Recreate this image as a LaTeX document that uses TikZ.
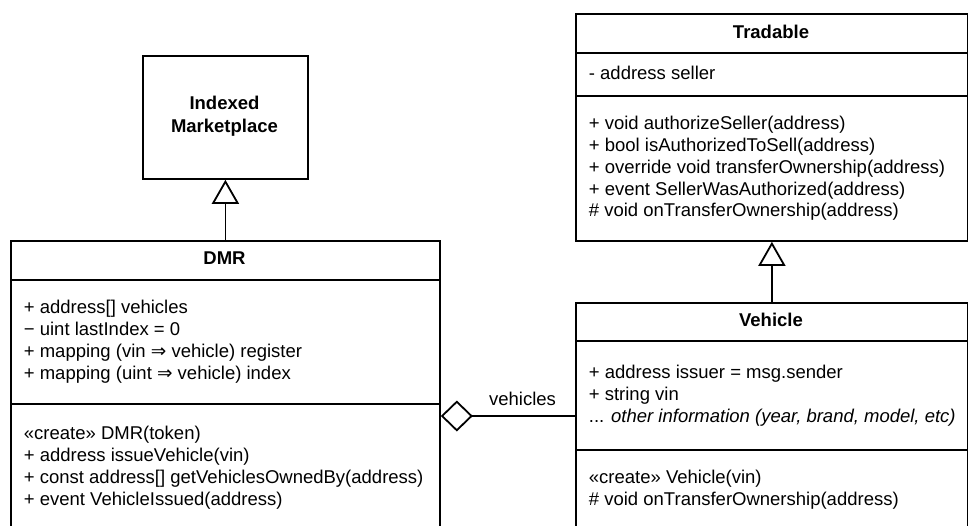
\documentclass[tikz,border=0pt]{standalone}
\usepackage{fontspec}
\setmainfont{Liberation Sans}
\newfontfamily\dejavu{DejaVu Sans}
\usetikzlibrary{arrows.meta}
\begin{document}
\begin{tikzpicture}[x=1pt,y=-1pt,line width=1.8pt,
  umlbox/.style={draw,line width=1.8pt,anchor=north west,inner sep=0pt},
  txt/.style={anchor=base west,inner sep=0pt,font=\fontsize{18.5}{22}\selectfont},
  hdr/.style={anchor=base,inner sep=0pt,font=\fontsize{18.5}{22}\selectfont\bfseries},
  gen/.style={-{Triangle[open,length=24pt,width=27pt]}},
  agr/.style={-{Diamond[open,length=32pt,width=31pt]}}]
\useasboundingbox (0,0) rectangle (968,525);
% boxes
\node[umlbox,minimum width=165pt,minimum height=123pt] (im) at (142,55) {};
\node[umlbox,minimum width=429pt,minimum height=300pt] (dmr) at (10,240) {};
\node[umlbox,minimum width=392pt,minimum height=227pt] (trd) at (575,13) {};
\node[umlbox,minimum width=392pt,minimum height=240pt] (veh) at (575,302) {};
% compartments
\draw (dmr.west |- 0,280) -- (dmr.east |- 0,280);
\draw (dmr.west |- 0,404) -- (dmr.east |- 0,404);
\draw (trd.west |- 0,53) -- (trd.east |- 0,53);
\draw (trd.west |- 0,96) -- (trd.east |- 0,96);
\draw (veh.west |- 0,341) -- (veh.east |- 0,341);
\draw (veh.west |- 0,450) -- (veh.east |- 0,450);
% Indexed Marketplace
\node[hdr] (im1) at (224.5,109) {Indexed};
\node[hdr] (im2) at (224.5,132) {Marketplace};
% DMR
\node[hdr] (dmrh) at (224.5,264.5) {DMR};
\node[txt] (d1) at (23,313.5) {+ address[] vehicles};
\node[txt] (d2) at (23,335.5) {− uint lastIndex = 0};
\node[txt] (d3) at (23,357.5) {+ mapping (vin {\dejavu ⇒} vehicle) register};
\node[txt] (d4) at (23,379.5) {+ mapping (uint {\dejavu ⇒} vehicle) index};
\node[txt] (d5) at (23,439.5) {«create» DMR(token)};
\node[txt] (d6) at (23,461.5) {+ address issueVehicle(vin)};
\node[txt] (d7) at (23,483.5) {+ const address[] getVehiclesOwnedBy(address)};
\node[txt] (d8) at (23,505) {+ event VehicleIssued(address)};
% Tradable
\node[hdr] (trh) at (771,38.5) {Tradable};
\node[txt] (t1) at (588,79.5) {- address seller};
\node[txt] (t2) at (588,129) {+ void authorizeSeller(address)};
\node[txt] (t3) at (588,151) {+ bool isAuthorizedToSell(address)};
\node[txt] (t4) at (588,173) {+ override void transferOwnership(address)};
\node[txt] (t5) at (588,195) {+ event SellerWasAuthorized(address)};
\node[txt] (t6) at (588,216.5) {\# void onTransferOwnership(address)};
% Vehicle
\node[hdr] (veth) at (771,326.5) {Vehicle};
\node[txt] (v1) at (588,378) {+ address issuer = msg.sender};
\node[txt] (v2) at (588,400.5) {+ string vin};
\node[txt] (v3) at (588,422) {... \itshape other information (year, brand, model, etc)};
\node[txt] (v4) at (588,483) {«create» Vehicle(vin)};
\node[txt] (v5) at (588,505) {\# void onTransferOwnership(address)};
% connectors
\draw[gen] (dmr.north -| im.south) -- (im.south);
\draw[gen] (veh.north -| trd.south) -- (trd.south);
\coordinate (agg) at (575,416);
\draw[agr] (agg) -- (agg -| dmr.east);
\node[txt,anchor=base] (lbl) at (522.5,405) {vehicles};
\end{tikzpicture}
\end{document}
